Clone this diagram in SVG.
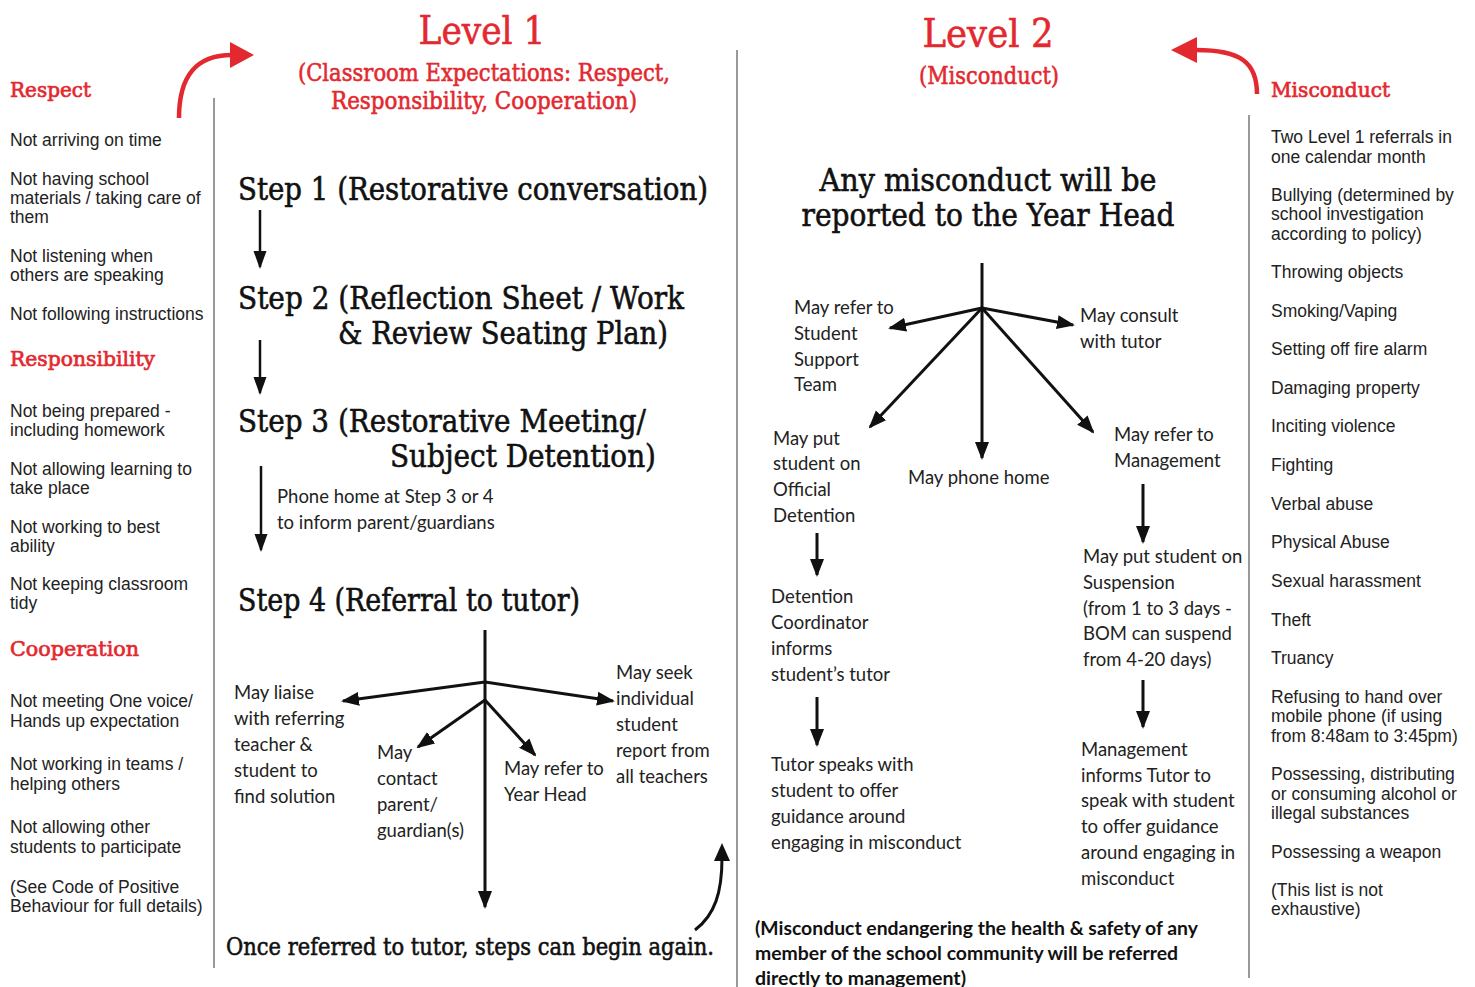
<svg xmlns="http://www.w3.org/2000/svg" width="1475" height="987" viewBox="0 0 1475 987">
<style>
.slab{font-family:"DejaVu Serif","Liberation Serif",serif;fill:#111;stroke:#111;stroke-width:0.6}
.red{fill:#e3292f;stroke:#e3292f}
.h{font-family:"DejaVu Serif","Liberation Serif",serif;font-size:21px;fill:#e3292f;stroke:#e3292f;stroke-width:0.7}
.lst{font-family:"Liberation Sans",Arial,sans-serif;font-size:17.5px;fill:#222}
.av{font-family:Lato,"Noto Sans",sans-serif;font-size:18.5px;fill:#222}
.avb{font-family:Lato,"Noto Sans",sans-serif;font-size:18.5px;font-weight:bold;fill:#111}
.div{stroke:#777;stroke-width:1.5;fill:none}
.con{stroke:#111;stroke-width:3;fill:none}
.con2{stroke:#111;stroke-width:2.5;fill:none}
.rarr{stroke:#e3292f;stroke-width:4.5;fill:none}
</style>
<defs>
<marker id="ah" markerUnits="userSpaceOnUse" markerWidth="18" markerHeight="16" refX="16" refY="8" orient="auto">
<path d="M0,1 L18,8 L0,15 z" fill="#111"/>
</marker>
<marker id="ah2" markerUnits="userSpaceOnUse" markerWidth="18" markerHeight="14" refX="16" refY="7" orient="auto">
<path d="M0,0.5 L18,7 L0,13.5 z" fill="#111"/>
</marker>
</defs>
<rect width="1475" height="987" fill="#fff"/>

<g id="dividers">
<line class="div" x1="214" y1="98" x2="214" y2="968"/>
<line class="div" x1="737" y1="50" x2="737" y2="987"/>
<line class="div" x1="1249" y1="115" x2="1249" y2="978"/>
</g>

<g id="title-level1">
<text class="slab red" x="482" y="44" font-size="40" text-anchor="middle" textLength="127" lengthAdjust="spacingAndGlyphs">Level 1</text>
<text class="slab red" x="484" y="81" font-size="24" text-anchor="middle" textLength="372" lengthAdjust="spacingAndGlyphs">(Classroom Expectations: Respect,</text>
<text class="slab red" x="484" y="109" font-size="24" text-anchor="middle" textLength="306" lengthAdjust="spacingAndGlyphs">Responsibility, Cooperation)</text>
</g>
<g id="title-level2">
<text class="slab red" x="988" y="47" font-size="40" text-anchor="middle" textLength="131" lengthAdjust="spacingAndGlyphs">Level 2</text>
<text class="slab red" x="989" y="84" font-size="24" text-anchor="middle" textLength="140" lengthAdjust="spacingAndGlyphs">(Misconduct)</text>
</g>

<g id="list-level1">
<text class="h" x="10" y="97" textLength="81" lengthAdjust="spacingAndGlyphs">Respect</text>
<text class="lst" x="10" y="146">Not arriving on time</text>
<text class="lst" x="10" y="185">Not having school</text>
<text class="lst" x="10" y="204">materials / taking care of</text>
<text class="lst" x="10" y="223">them</text>
<text class="lst" x="10" y="262">Not listening when</text>
<text class="lst" x="10" y="281">others are speaking</text>
<text class="lst" x="10" y="320">Not following instructions</text>
<text class="h" x="10" y="366" textLength="145" lengthAdjust="spacingAndGlyphs">Responsibility</text>
<text class="lst" x="10" y="417">Not being prepared -</text>
<text class="lst" x="10" y="436">including homework</text>
<text class="lst" x="10" y="475">Not allowing learning to</text>
<text class="lst" x="10" y="494">take place</text>
<text class="lst" x="10" y="533">Not working to best</text>
<text class="lst" x="10" y="552">ability</text>
<text class="lst" x="10" y="590">Not keeping classroom</text>
<text class="lst" x="10" y="609">tidy</text>
<text class="h" x="10" y="656" textLength="129" lengthAdjust="spacingAndGlyphs">Cooperation</text>
<text class="lst" x="10" y="707">Not meeting One voice/</text>
<text class="lst" x="10" y="727">Hands up expectation</text>
<text class="lst" x="10" y="770">Not working in teams /</text>
<text class="lst" x="10" y="790">helping others</text>
<text class="lst" x="10" y="833">Not allowing other</text>
<text class="lst" x="10" y="853">students to participate</text>
<text class="lst" x="10" y="893">(See Code of Positive</text>
<text class="lst" x="10" y="912">Behaviour for full details)</text>
</g>

<g id="list-level2">
<text class="h" x="1271" y="97" textLength="119" lengthAdjust="spacingAndGlyphs">Misconduct</text>
<text class="lst" x="1271" y="143">Two Level 1 referrals in</text>
<text class="lst" x="1271" y="163">one calendar month</text>
<text class="lst" x="1271" y="201">Bullying (determined by</text>
<text class="lst" x="1271" y="220">school investigation</text>
<text class="lst" x="1271" y="240">according to policy)</text>
<text class="lst" x="1271" y="278">Throwing objects</text>
<text class="lst" x="1271" y="317">Smoking/Vaping</text>
<text class="lst" x="1271" y="355">Setting off fire alarm</text>
<text class="lst" x="1271" y="394">Damaging property</text>
<text class="lst" x="1271" y="432">Inciting violence</text>
<text class="lst" x="1271" y="471">Fighting</text>
<text class="lst" x="1271" y="510">Verbal abuse</text>
<text class="lst" x="1271" y="548">Physical Abuse</text>
<text class="lst" x="1271" y="587">Sexual harassment</text>
<text class="lst" x="1271" y="626">Theft</text>
<text class="lst" x="1271" y="664">Truancy</text>
<text class="lst" x="1271" y="703">Refusing to hand over</text>
<text class="lst" x="1271" y="722">mobile phone (if using</text>
<text class="lst" x="1271" y="742">from 8:48am to 3:45pm)</text>
<text class="lst" x="1271" y="780">Possessing, distributing</text>
<text class="lst" x="1271" y="800">or consuming alcohol or</text>
<text class="lst" x="1271" y="819">illegal substances</text>
<text class="lst" x="1271" y="858">Possessing a weapon</text>
<text class="lst" x="1271" y="896">(This list is not</text>
<text class="lst" x="1271" y="915">exhaustive)</text>
</g>

<g id="step1"><text class="slab" x="238" y="200" font-size="31" textLength="470" lengthAdjust="spacingAndGlyphs">Step 1 (Restorative conversation)</text></g>
<g id="step2">
<text class="slab" x="238" y="309" font-size="31" textLength="446" lengthAdjust="spacingAndGlyphs">Step 2 (Reflection Sheet / Work</text>
<text class="slab" x="338" y="344" font-size="31" textLength="330" lengthAdjust="spacingAndGlyphs">&amp; Review Seating Plan)</text>
</g>
<g id="step3">
<text class="slab" x="238" y="432" font-size="31" textLength="408" lengthAdjust="spacingAndGlyphs">Step 3 (Restorative Meeting/</text>
<text class="slab" x="390" y="467" font-size="31" textLength="266" lengthAdjust="spacingAndGlyphs">Subject Detention)</text>
</g>
<g id="phone-note">
<text class="av" x="277" y="503">Phone home at Step 3 or 4</text>
<text class="av" x="277" y="529">to inform parent/guardians</text>
</g>
<g id="step4"><text class="slab" x="238" y="611" font-size="31" textLength="342" lengthAdjust="spacingAndGlyphs">Step 4 (Referral to tutor)</text></g>

<g id="l1-liaise">
<text class="av" x="234" y="699">May liaise</text>
<text class="av" x="234" y="725">with referring</text>
<text class="av" x="234" y="751">teacher &amp;</text>
<text class="av" x="234" y="777">student to</text>
<text class="av" x="234" y="803">find solution</text>
</g>
<g id="l1-contact">
<text class="av" x="377" y="759">May</text>
<text class="av" x="377" y="785">contact</text>
<text class="av" x="377" y="811">parent/</text>
<text class="av" x="377" y="837">guardian(s)</text>
</g>
<g id="l1-yearhead">
<text class="av" x="504" y="775">May refer to</text>
<text class="av" x="504" y="801">Year Head</text>
</g>
<g id="l1-report">
<text class="av" x="616" y="679">May seek</text>
<text class="av" x="616" y="705">individual</text>
<text class="av" x="616" y="731">student</text>
<text class="av" x="616" y="757">report from</text>
<text class="av" x="616" y="783">all teachers</text>
</g>
<g id="l1-again">
<text class="slab" x="226" y="955" font-size="24" textLength="488" lengthAdjust="spacingAndGlyphs">Once referred to tutor, steps can begin again.</text>
</g>

<g id="l2-headline">
<text class="slab" x="988" y="191" font-size="32" text-anchor="middle" textLength="337" lengthAdjust="spacingAndGlyphs">Any misconduct will be</text>
<text class="slab" x="988" y="226" font-size="32" text-anchor="middle" textLength="373" lengthAdjust="spacingAndGlyphs">reported to the Year Head</text>
</g>
<g id="l2-sst">
<text class="av" x="794" y="314">May refer to</text>
<text class="av" x="794" y="340">Student</text>
<text class="av" x="794" y="366">Support</text>
<text class="av" x="794" y="391">Team</text>
</g>
<g id="l2-tutor">
<text class="av" x="1080" y="322">May consult</text>
<text class="av" x="1080" y="348">with tutor</text>
</g>
<g id="l2-detention">
<text class="av" x="773" y="445">May put</text>
<text class="av" x="773" y="470">student on</text>
<text class="av" x="773" y="496">Official</text>
<text class="av" x="773" y="522">Detention</text>
</g>
<g id="l2-phone"><text class="av" x="908" y="484">May phone home</text></g>
<g id="l2-management">
<text class="av" x="1114" y="441">May refer to</text>
<text class="av" x="1114" y="467">Management</text>
</g>
<g id="l2-suspension">
<text class="av" x="1083" y="563">May put student on</text>
<text class="av" x="1083" y="589">Suspension</text>
<text class="av" x="1083" y="615">(from 1 to 3 days -</text>
<text class="av" x="1083" y="640">BOM can suspend</text>
<text class="av" x="1083" y="666">from 4-20 days)</text>
</g>
<g id="l2-mgmt-informs">
<text class="av" x="1081" y="756">Management</text>
<text class="av" x="1081" y="782">informs Tutor to</text>
<text class="av" x="1081" y="807">speak with student</text>
<text class="av" x="1081" y="833">to offer guidance</text>
<text class="av" x="1081" y="859">around engaging in</text>
<text class="av" x="1081" y="885">misconduct</text>
</g>
<g id="l2-coordinator">
<text class="av" x="771" y="603">Detention</text>
<text class="av" x="771" y="629">Coordinator</text>
<text class="av" x="771" y="655">informs</text>
<text class="av" x="771" y="681">student’s tutor</text>
</g>
<g id="l2-tutor-speaks">
<text class="av" x="771" y="771">Tutor speaks with</text>
<text class="av" x="771" y="797">student to offer</text>
<text class="av" x="771" y="823">guidance around</text>
<text class="av" x="771" y="849">engaging in misconduct</text>
</g>
<g id="l2-note">
<text class="avb" x="755" y="935" textLength="443" lengthAdjust="spacingAndGlyphs">(Misconduct endangering the health &amp; safety of any</text>
<text class="avb" x="755" y="960" textLength="423" lengthAdjust="spacingAndGlyphs">member of the school community will be referred</text>
<text class="avb" x="755" y="985" textLength="211" lengthAdjust="spacingAndGlyphs">directly to management)</text>
</g>

<g id="connectors">
<path class="rarr" d="M179,118 C179,76 196,55 232,55"/>
<polygon points="230,42 254,55 230,68" fill="#e3292f"/>
<path class="rarr" d="M1257,94 C1257,62 1240,50 1196,50"/>
<polygon points="1197,37 1171,50 1197,63" fill="#e3292f"/>

<line class="con2" x1="260" y1="210" x2="260" y2="267" marker-end="url(#ah2)"/>
<line class="con2" x1="260" y1="340" x2="260" y2="393" marker-end="url(#ah2)"/>
<line class="con2" x1="261" y1="466" x2="261" y2="550" marker-end="url(#ah2)"/>

<line class="con" x1="485" y1="630" x2="485" y2="907" marker-end="url(#ah)"/>
<line class="con" x1="485" y1="682" x2="343" y2="701" marker-end="url(#ah)"/>
<line class="con" x1="485" y1="682" x2="613" y2="701" marker-end="url(#ah)"/>
<line class="con" x1="485" y1="700" x2="418" y2="747" marker-end="url(#ah)"/>
<line class="con" x1="485" y1="700" x2="535" y2="755" marker-end="url(#ah)"/>
<path class="con" d="M695,930 C715,915 722,892 722,858"/>
<polygon points="714,861 722,843 730,861" fill="#111"/>

<line class="con" x1="982" y1="263" x2="982" y2="458" marker-end="url(#ah)"/>
<line class="con" x1="982" y1="308" x2="890" y2="328" marker-end="url(#ah)"/>
<line class="con" x1="982" y1="308" x2="1073" y2="325" marker-end="url(#ah)"/>
<line class="con" x1="982" y1="308" x2="870" y2="427" marker-end="url(#ah)"/>
<line class="con" x1="982" y1="308" x2="1093" y2="432" marker-end="url(#ah)"/>
<line class="con" x1="1143" y1="484" x2="1143" y2="542" marker-end="url(#ah)"/>
<line class="con" x1="1143" y1="680" x2="1143" y2="727" marker-end="url(#ah)"/>
<line class="con" x1="817" y1="533" x2="817" y2="575" marker-end="url(#ah)"/>
<line class="con" x1="817" y1="697" x2="817" y2="745" marker-end="url(#ah)"/>
</g>
</svg>
